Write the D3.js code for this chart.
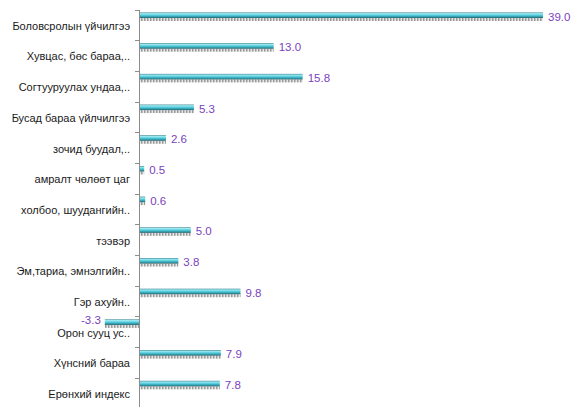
<!DOCTYPE html>
<html>
<head>
<meta charset="utf-8">
<script src="https://cdn.jsdelivr.net/npm/d3@7"></script>
<style>
  body { margin: 0; background: #fff; }
  svg { display: block; }
</style>
</head>
<body>
<div id="chart-area"></div>
<script>
var width = 582, height = 407;

// Data
var categories = [
    "Боловсролын үйчилгээ",
    "Хувцас, бөс бараа,..",
    "Согтууруулах ундаа,..",
    "Бусад бараа үйлчилгээ",
    "зочид буудал,..",
    "амралт чөлөөт цаг",
    "холбоо, шуудангийн..",
    "тээвэр",
    "Эм,тариа, эмнэлгийн..",
    "Гэр ахуйн..",
    "Орон сууц ус..",
    "Хүнсний бараа",
    "Ерөнхий индекс"
];
var values = [39.0, 13.0, 15.8, 5.3, 2.6, 0.5, 0.6, 5.0, 3.8, 9.8, -3.3, 7.9, 7.8];

var svg = d3.select("#chart-area")
    .append("svg")
        .attr("width", width)
        .attr("height", height);

// Bar gradient
var defs = svg.append("defs");
var grad = defs.append("linearGradient")
    .attr("id", "barGrad")
    .attr("x1", 0).attr("y1", 0).attr("x2", 0).attr("y2", 1);
grad.append("stop").attr("offset", "0%").attr("stop-color", "#2f7f8c");
grad.append("stop").attr("offset", "20%").attr("stop-color", "#9eeaf2");
grad.append("stop").attr("offset", "55%").attr("stop-color", "#4cc6d6");
grad.append("stop").attr("offset", "85%").attr("stop-color", "#2b8e9c");
grad.append("stop").attr("offset", "100%").attr("stop-color", "#1d5660");

var shadow = defs.append("pattern")
    .attr("id", "shadowPat")
    .attr("patternUnits", "userSpaceOnUse")
    .attr("width", 3).attr("height", 3);
shadow.append("rect").attr("width", 3).attr("height", 3).attr("fill", "#e6e6e6");
shadow.append("rect").attr("width", 1.5).attr("height", 3).attr("fill", "#9a9a9a");

// Scales
var x = d3.scaleLinear()
    .domain([0, 39])
    .range([139, 543]);
var y = d3.scaleBand()
    .domain(categories)
    .range([9.5, 408.5]);

var labelFont = "'Liberation Sans', Arial, sans-serif";

// Y axis
var yAxisCall = d3.axisLeft(y)
    .tickSize(0)
    .tickPadding(9)
    .tickFormat(function(d){ return d; });
var yAxis = svg.append("g")
    .attr("class", "y-axis")
    .attr("transform", "translate(" + x(0) + ",0)")
    .call(yAxisCall);
yAxis.select(".domain").attr("stroke", "#8c8c8c");
yAxis.selectAll(".tick text")
    .attr("font-family", labelFont)
    .attr("font-size", "11px")
    .attr("fill", "#1a1a1a")
    .attr("dy", "0.45em");

// band boundary ticks
svg.append("g")
    .selectAll("line")
    .data(categories)
    .enter()
    .append("line")
        .attr("x1", x(0) - 4)
        .attr("x2", x(0))
        .attr("y1", function(d){ return Math.round(y(d)) + 0.5; })
        .attr("y2", function(d){ return Math.round(y(d)) + 0.5; })
        .attr("stroke", "#8c8c8c");

var rows = svg.append("g")
    .selectAll("g")
    .data(values)
    .enter()
    .append("g");

// shadow under bars
rows.append("rect")
    .attr("x", function(d){ return Math.min(x(0), x(d)); })
    .attr("y", function(d, i){ return y(categories[i]) + 8.5; })
    .attr("width", function(d){ return Math.abs(x(d) - x(0)); })
    .attr("height", 3)
    .attr("fill", "url(#shadowPat)");

// bars
rows.append("rect")
    .attr("x", function(d){ return Math.min(x(0), x(d)); })
    .attr("y", function(d, i){ return y(categories[i]) + 3; })
    .attr("width", function(d){ return Math.abs(x(d) - x(0)); })
    .attr("height", 5.5)
    .attr("fill", "url(#barGrad)");

// value labels
rows.append("text")
    .attr("x", function(d){ return d < 0 ? x(d) - 4 : x(d) + 5; })
    .attr("y", function(d, i){ return y(categories[i]) + (d < 0 ? 4 : 7); })
    .attr("dy", "0.35em")
    .attr("text-anchor", function(d){ return d < 0 ? "end" : "start"; })
    .attr("font-family", labelFont)
    .attr("font-size", "11.5px")
    .attr("fill", "#7a3fc0")
    .text(function(d){ return d3.format(".1f")(d).replace("\u2212", "-"); });

// keep axis line on top
yAxis.raise();
</script>
</body>
</html>
